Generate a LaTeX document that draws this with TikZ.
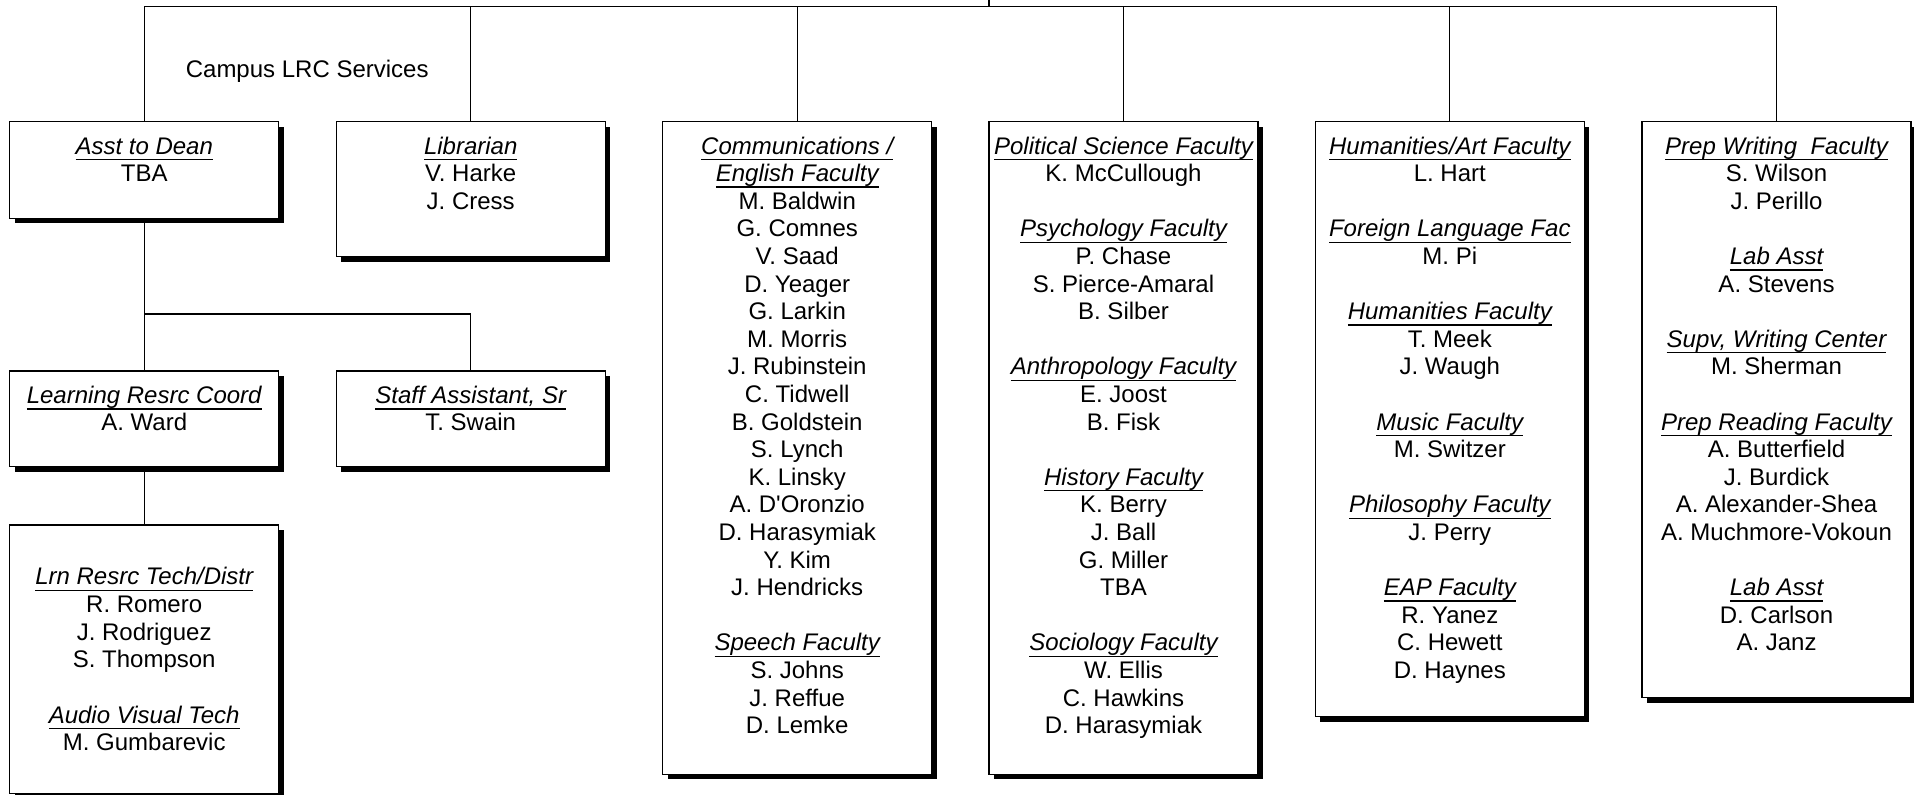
\documentclass[tikz,border=0pt]{standalone}
\usepackage{fontspec}
\setmainfont{Liberation Sans}[Ligatures=TeXOff]
\usetikzlibrary{shadows}
\newcommand\hd[1]{\setbox0\hbox{\itshape #1}\rlap{\rule[-3.1pt]{\wd0}{0.75pt}}\box0}
\newcommand\lines[1]{\begin{tabular}[t]{@{}c@{}}#1\end{tabular}}
\tikzset{
  x=0.5pt, y=-0.5pt,
  orgbox/.style={draw=black, line width=0.6pt, fill=white, inner sep=0pt, outer sep=0pt,
    minimum width=134.5pt, anchor=north,
    drop shadow={shadow xshift=2.5pt, shadow yshift=-2.5pt, fill=black, opacity=1}},
  boxtext/.style={anchor=base, inner sep=0pt, yshift=-16.2pt,
    font=\fontsize{12pt}{13.8pt}\selectfont},
  conn/.style={line width=0.6pt, draw=black},
}
\begin{document}
\begin{tikzpicture}
\useasboundingbox (0,0) rectangle (1914,795);

% top-row boxes
\node[orgbox, minimum height=48.3pt] (dean) at (144.2,121.7) {};
\node[orgbox, minimum height=67.5pt] (lib) at (470.7,121.7) {};
\node[orgbox, minimum height=326.2pt] (comm) at (797.2,121.7) {};
\node[orgbox, minimum height=326.2pt] (pol) at (1123.5,121.7) {};
\node[orgbox, minimum height=297.5pt] (hum) at (1449.8,121.7) {};
\node[orgbox, minimum height=288pt] (prep) at (1776.5,121.7) {};
% lower boxes
\node[orgbox, minimum height=47.8pt] (lrc) at (144.2,371) {};
\node[orgbox, minimum height=47.8pt] (staff) at (470.7,371) {};
\node[orgbox, minimum height=134.2pt] (tech) at (144.2,525) {};

% texts
\node[boxtext] (deanT) at (dean.north) {\lines{\hd{Asst to Dean}\\ TBA}};
\node[boxtext] (libT) at (lib.north) {\lines{\hd{Librarian}\\ V. Harke\\ J. Cress}};
\node[boxtext] (commT) at (comm.north) {\lines{\hd{Communications /}\\ \hd{English Faculty}\\ M. Baldwin\\ G. Comnes\\ V. Saad\\ D. Yeager\\ G. Larkin\\ M. Morris\\ J. Rubinstein\\ C. Tidwell\\ B. Goldstein\\ S. Lynch\\ K. Linsky\\ A. D'Oronzio\\ D. Harasymiak\\ Y. Kim\\ J. Hendricks\\ \\ \hd{Speech Faculty}\\ S. Johns\\ J. Reffue\\ D. Lemke}};
\node[boxtext] (polT) at (pol.north) {\lines{\hd{Political Science Faculty}\\ K. McCullough\\ \\ \hd{Psychology Faculty}\\ P. Chase\\ S. Pierce-Amaral\\ B. Silber\\ \\ \hd{Anthropology Faculty}\\ E. Joost\\ B. Fisk\\ \\ \hd{History Faculty}\\ K. Berry\\ J. Ball\\ G. Miller\\ TBA\\ \\ \hd{Sociology Faculty}\\ W. Ellis\\ C. Hawkins\\ D. Harasymiak}};
\node[boxtext] (humT) at (hum.north) {\lines{\hd{Humanities/Art Faculty}\\ L. Hart\\ \\ \hd{Foreign Language Fac}\\ M. Pi\\ \\ \hd{Humanities Faculty}\\ T. Meek\\ J. Waugh\\ \\ \hd{Music Faculty}\\ M. Switzer\\ \\ \hd{Philosophy Faculty}\\ J. Perry\\ \\ \hd{EAP Faculty}\\ R. Yanez\\ C. Hewett\\ D. Haynes}};
\node[boxtext] (prepT) at (prep.north) {\lines{\hd{Prep Writing\ \ Faculty}\\ S. Wilson\\ J. Perillo\\ \\ \hd{Lab Asst}\\ A. Stevens\\ \\ \hd{Supv, Writing Center}\\ M. Sherman\\ \\ \hd{Prep Reading Faculty}\\ A. Butterfield\\ J. Burdick\\ A. Alexander-Shea\\ A. Muchmore-Vokoun\\ \\ \hd{Lab Asst}\\ D. Carlson\\ A. Janz}};
\node[boxtext] (lrcT) at (lrc.north) {\lines{\hd{Learning Resrc Coord}\\ A. Ward}};
\node[boxtext] (staffT) at (staff.north) {\lines{\hd{Staff Assistant, Sr}\\ T. Swain}};
\node[boxtext] (techT) at (tech.north) {\lines{\\ \hd{Lrn Resrc Tech/Distr}\\ R. Romero\\ J. Rodriguez\\ S. Thompson\\ \\ \hd{Audio Visual Tech}\\ M. Gumbarevic}};

\node[anchor=base, inner sep=0pt, font=\fontsize{12pt}{13.8pt}\selectfont] (campus) at (307.2,77.3) {Campus LRC Services};

% connectors
\coordinate (busy) at (0,6.7);
\coordinate (midy) at (0,314);
\coordinate (parent) at (989,0);
\draw[conn] (parent) -- (parent |- busy);
\draw[conn] (dean.north) |- (busy -| prep.north) -- (prep.north);
\draw[conn] (lib.north) -- (lib.north |- busy);
\draw[conn] (comm.north) -- (comm.north |- busy);
\draw[conn] (pol.north) -- (pol.north |- busy);
\draw[conn] (hum.north) -- (hum.north |- busy);
\draw[conn] (dean.south) -- (lrc.north);
\draw[conn] (lrc.north |- midy) -| (staff.north);
\draw[conn] (lrc.south) -- (tech.north);
\end{tikzpicture}
\end{document}
